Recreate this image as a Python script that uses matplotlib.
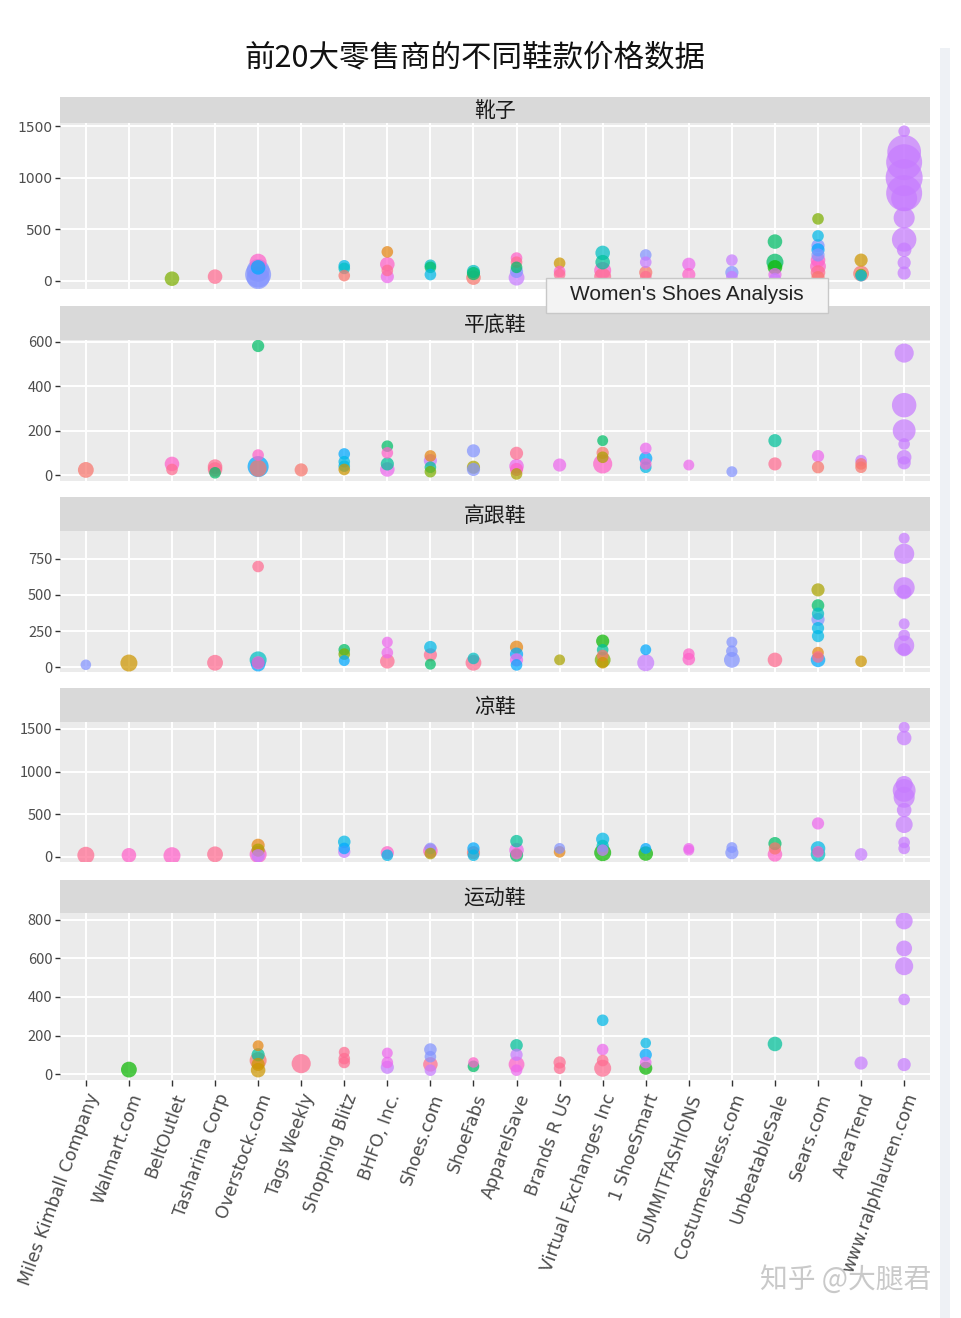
import numpy as np
import matplotlib
matplotlib.use('Agg')
import matplotlib.pyplot as plt
from matplotlib.patches import Rectangle

plt.rcParams['font.family'] = ['Noto Sans CJK SC', 'DejaVu Sans']

retailers = ['Miles Kimball Company', 'Walmart.com', 'BeltOutlet', 'Tasharina Corp',
             'Overstock.com', 'Tags Weekly', 'Shopping Blitz', 'BHFO, Inc.', 'Shoes.com',
             'ShoeFabs', 'ApparelSave', 'Brands R US', 'Virtual Exchanges Inc',
             '1 ShoeSmart', 'SUMMITFASHIONS', 'Costumes4less.com', 'UnbeatableSale',
             'Sears.com', 'AreaTrend', 'www.ralphlauren.com']

# ggplot hue palette used for the brand colour
brand_colors = ['#F8766D', '#E68613', '#CD9600', '#ABA300', '#7CAE00', '#0CB702',
                '#00BE67', '#00C19A', '#00BFC4', '#00B8E7', '#00A9FF', '#8494FF',
                '#C77CFF', '#ED68ED', '#FF61C9', '#FF6C91']

# (retailer index, price, listing count, brand index)
boots = [(2, 20, 2, 4), (3, 40, 2, 15),
         (4, 30, 6, 11), (4, 60, 8, 11), (4, 100, 6, 11), (4, 130, 2, 10), (4, 180, 3, 14),
         (6, 145, 1, 9), (6, 120, 1, 8), (6, 50, 1, 0),
         (7, 280, 1, 1), (7, 160, 2, 14), (7, 100, 1, 15), (7, 40, 1.5, 13),
         (8, 150, 1, 8), (8, 130, 1, 6), (8, 60, 1, 9),
         (9, 90, 1.5, 8), (9, 70, 1.5, 6), (9, 30, 2, 0),
         (10, 220, 1, 14), (10, 180, 1, 15), (10, 130, 1, 6), (10, 90, 1.5, 11), (10, 30, 2.5, 12),
         (11, 170, 1, 2), (11, 90, 1, 14), (11, 60, 1, 15),
         (12, 270, 2, 8), (12, 180, 2, 7), (12, 100, 3, 14), (12, 40, 3, 15),
         (13, 250, 1, 11), (13, 180, 1, 12), (13, 80, 1.5, 0), (13, 40, 1, 15),
         (14, 160, 1.5, 13), (14, 60, 1.5, 14),
         (15, 200, 1, 12), (15, 80, 1.5, 11), (15, 40, 1, 12),
         (16, 380, 2, 6), (16, 180, 3, 6), (16, 130, 2, 5), (16, 60, 1.5, 13), (16, 20, 1, 12),
         (17, 600, 1, 4), (17, 435, 1, 9), (17, 340, 1.5, 11), (17, 300, 1.5, 10),
         (17, 250, 1.5, 11), (17, 200, 2, 14), (17, 140, 2.5, 14), (17, 80, 2, 15), (17, 30, 1.5, 0),
         (18, 200, 1.5, 2), (18, 70, 2.5, 0), (18, 60, 1, 4), (18, 50, 1, 9),
         (19, 1450, 1, 12), (19, 1250, 14, 12), (19, 1150, 16, 12), (19, 1000, 17, 12),
         (19, 850, 16, 12), (19, 800, 8, 12), (19, 610, 5, 12), (19, 400, 7, 12),
         (19, 300, 2, 12), (19, 175, 1.5, 12), (19, 75, 1.5, 12)]

flats = [(0, 23, 2.5, 0),
         (2, 50, 2, 14), (2, 25, 1, 15),
         (3, 38, 2, 15), (3, 10, 1, 6), (3, 25, 2, 15),
         (4, 582, 1.2, 6), (4, 38, 5, 10), (4, 30, 3, 0), (4, 90, 1, 14),
         (5, 23, 1.5, 0),
         (6, 95, 1, 10), (6, 60, 1, 9), (6, 40, 1, 9), (6, 25, 1, 2),
         (7, 130, 1, 6), (7, 100, 1, 14), (7, 50, 1.5, 7), (7, 25, 2, 13),
         (8, 86, 1, 1), (8, 65, 1.5, 12), (8, 35, 1, 7), (8, 15, 1, 4),
         (9, 109, 1.5, 11), (9, 35, 1.5, 3), (9, 25, 1.5, 11),
         (10, 98, 1.5, 15), (10, 40, 2, 13), (10, 25, 1.5, 14), (10, 5, 1, 3),
         (11, 45, 1.5, 13),
         (12, 155, 0.8, 6), (12, 100, 1.2, 0), (12, 80, 1, 3), (12, 50, 4, 14),
         (13, 120, 1, 13), (13, 75, 1.5, 10), (13, 35, 1, 9), (13, 50, 1, 14),
         (14, 45, 0.8, 13),
         (15, 15, 0.8, 11),
         (16, 155, 1.5, 7), (16, 50, 1.5, 15),
         (17, 85, 1.2, 13), (17, 35, 1.2, 0),
         (18, 65, 1, 12), (18, 50, 1, 0), (18, 35, 1, 0),
         (19, 550, 4, 12), (19, 315, 7, 12), (19, 200, 6, 12), (19, 140, 1, 12),
         (19, 80, 2, 12), (19, 55, 1.5, 12)]

heels = [(0, 16, 0.7, 11),
         (1, 28, 3, 2),
         (3, 30, 2.5, 15),
         (4, 697, 1, 15), (4, 50, 3, 8), (4, 20, 2, 10), (4, 30, 1.5, 14),
         (6, 120, 1, 6), (6, 90, 1, 4), (6, 45, 0.8, 10),
         (7, 173, 0.8, 13), (7, 100, 1, 13), (7, 40, 2, 15),
         (8, 138, 1.3, 9), (8, 85, 1.5, 15), (8, 20, 0.8, 6),
         (9, 60, 1, 8), (9, 30, 2.5, 15),
         (10, 138, 1.5, 1), (10, 90, 1.5, 10), (10, 50, 1.5, 13), (10, 15, 1, 10),
         (11, 50, 0.8, 3),
         (12, 180, 1.5, 5), (12, 120, 1, 7), (12, 80, 1, 0), (12, 50, 2.5, 4), (12, 30, 1, 2),
         (13, 120, 0.8, 10), (13, 30, 3, 12),
         (14, 90, 1, 14), (14, 55, 1.3, 14),
         (15, 173, 0.8, 11), (15, 110, 1, 11), (15, 50, 2.5, 11),
         (16, 50, 2, 15),
         (17, 535, 1.5, 3), (17, 427, 1.3, 6), (17, 370, 1.2, 8), (17, 330, 1.5, 11),
         (17, 270, 1.2, 9), (17, 215, 1.2, 9), (17, 100, 1, 1), (17, 70, 1, 15), (17, 50, 2, 10),
         (18, 40, 1, 2),
         (19, 893, 0.8, 12), (19, 785, 4.5, 12), (19, 550, 5, 12), (19, 520, 2, 12),
         (19, 300, 0.8, 12), (19, 220, 1, 12), (19, 150, 4.5, 12), (19, 120, 1.5, 12)]

sandals = [(0, 20, 3, 15),
           (1, 20, 2, 14),
           (2, 15, 3, 14),
           (3, 31, 2.5, 15),
           (4, 137, 1.5, 1), (4, 80, 1.5, 3), (4, 30, 3, 14), (4, 15, 1.5, 12),
           (6, 177, 1.3, 9), (6, 100, 1, 10), (6, 60, 1.2, 12),
           (7, 50, 1.5, 14), (7, 20, 1, 9),
           (8, 100, 1, 11), (8, 70, 2, 14), (8, 40, 1, 3),
           (9, 100, 1.2, 10), (9, 50, 1.5, 0), (9, 20, 1, 9),
           (10, 185, 1.3, 7), (10, 80, 2, 13), (10, 20, 1.5, 6), (10, 40, 1, 14),
           (11, 100, 0.8, 11), (11, 60, 1, 1),
           (12, 208, 1.5, 9), (12, 130, 1.2, 8), (12, 80, 1, 12), (12, 50, 3, 5),
           (13, 100, 0.8, 10), (13, 40, 2, 5),
           (14, 100, 0.8, 13), (14, 80, 0.8, 13),
           (15, 110, 0.8, 11), (15, 50, 1.5, 11),
           (16, 157, 1.5, 6), (16, 100, 1.2, 0), (16, 30, 2, 14),
           (17, 393, 1.2, 13), (17, 100, 2, 9), (17, 30, 2, 8), (17, 60, 1, 14),
           (18, 30, 1.3, 12),
           (19, 1520, 0.8, 12), (19, 1394, 2, 12), (19, 850, 3, 12), (19, 780, 6, 12),
           (19, 700, 5, 12), (19, 550, 2, 12), (19, 380, 3, 12), (19, 170, 1, 12), (19, 100, 1, 12)]

sports = [(1, 23, 2.5, 5),
          (4, 147, 0.8, 1), (4, 100, 1.5, 7), (4, 70, 3, 0), (4, 50, 1.5, 2), (4, 20, 2, 2),
          (5, 54, 4, 15),
          (6, 113, 0.8, 15), (6, 80, 1, 15), (6, 60, 1, 15),
          (7, 109, 0.8, 13), (7, 35, 1.5, 12), (7, 60, 1, 13),
          (8, 127, 1.3, 11), (8, 90, 1, 11), (8, 50, 2, 15), (8, 20, 1, 12),
          (9, 60, 0.7, 14), (9, 40, 1, 6),
          (10, 149, 1.3, 7), (10, 100, 1.2, 12), (10, 50, 2.5, 14), (10, 20, 1, 13),
          (11, 60, 1.2, 15), (11, 30, 1, 15),
          (12, 279, 1, 9), (12, 127, 1, 13), (12, 30, 3, 15), (12, 70, 1, 15),
          (13, 161, 0.7, 9), (13, 100, 1.2, 10), (13, 60, 1, 13), (13, 30, 1.5, 5),
          (16, 156, 2, 7),
          (18, 57, 1.5, 12),
          (19, 795, 3, 12), (19, 652, 2.5, 12), (19, 560, 3.5, 12), (19, 387, 1, 12), (19, 49, 1.5, 12)]

W, H = 962, 1318
fig = plt.figure(figsize=(W / 100, H / 100), dpi=100)


def px_axes(left, top, right, bottom):
    return fig.add_axes([left / W, 1 - bottom / H, (right - left) / W, (bottom - top) / H])


# name, data, strip top, plot top, plot bottom, y limits, y ticks
panels = [('靴子', boots, 97, 123, 289, (-80, 1530), [0, 500, 1000, 1500]),
          ('平底鞋', flats, 306, 340, 481, (-27, 609), [0, 200, 400, 600]),
          ('高跟鞋', heels, 497, 531, 672, (-34, 943), [0, 250, 500, 750]),
          ('凉鞋', sandals, 688, 722, 862, (-59, 1582), [0, 500, 1000, 1500]),
          ('运动鞋', sports, 880, 913, 1080, (-31, 836), [0, 200, 400, 600, 800])]

for k, (name, data, st, pt, pb, ylim, yticks) in enumerate(panels):
    sax = px_axes(60, st, 930, pt)
    sax.set_facecolor('#D9D9D9')
    sax.set_xticks([])
    sax.set_yticks([])
    for s in sax.spines.values():
        s.set_visible(False)
    sax.text(0.5, 0.45, name, ha='center', va='center', fontsize=15, color='#1A1A1A',
             transform=sax.transAxes)

    ax = px_axes(60, pt, 930, pb)
    ax.set_facecolor('#EBEBEB')
    for s in ax.spines.values():
        s.set_visible(False)
    ax.set_xlim(-0.6, 19.6)
    ax.set_ylim(*ylim)
    ax.set_xticks(range(len(retailers)))
    ax.set_yticks(yticks)
    ax.grid(True, color='white', linewidth=1.4)
    ax.set_axisbelow(True)
    ax.tick_params(axis='y', length=3.5, width=1, color='#333333', labelsize=10.5,
                   labelcolor='#4D4D4D', pad=2)
    if k == 0:
        for lab in ax.get_yticklabels():
            lab.set_family('DejaVu Sans')
            lab.set_fontsize(10)

    order = sorted(data, key=lambda d: -d[2])
    xs = [d[0] for d in order]
    ys = [d[1] for d in order]
    ns = np.array([d[2] for d in order])
    cs = [brand_colors[d[3]] for d in order]
    ax.scatter(xs, ys, s=30 + 40 * ns, c=cs, alpha=0.72, linewidths=0, zorder=3)

    if k == len(panels) - 1:
        ax.tick_params(axis='x', length=4, width=1, color='#333333', labelsize=12.5,
                       labelcolor='#4D4D4D', pad=4)
        ax.set_xticklabels(retailers, rotation=70, ha='right', va='top',
                           rotation_mode='anchor', family='DejaVu Sans')
    else:
        ax.tick_params(axis='x', length=0, labelbottom=False)

fig.text(475 / W, 1 - 58 / H, '前20大零售商的不同鞋款价格数据', ha='center', va='center',
         fontsize=22, color='#111111')

# hover label and page decorations from the screenshot
fig.patches.append(Rectangle((546 / W, 1 - 313 / H), 282 / W, 35 / H, transform=fig.transFigure,
                             facecolor='#F3F3F3', edgecolor='#C8C8C8', linewidth=1, zorder=10))
fig.text(687 / W, 1 - 295 / H, "Women's Shoes Analysis", ha='center', va='center',
         fontsize=15, color='#222222', family='Liberation Sans', zorder=11)
fig.patches.append(Rectangle((940 / W, 0), 10 / W, 1 - 48 / H, transform=fig.transFigure,
                             facecolor='#EEF1F5', edgecolor='none', zorder=0))
fig.text(846 / W, 1 - 1280 / H, '知乎 @大腿君', ha='center', va='center', fontsize=20,
         color='#C4C4C4', alpha=0.9, zorder=12)

fig.savefig('out.png', dpi=100, facecolor='white')
